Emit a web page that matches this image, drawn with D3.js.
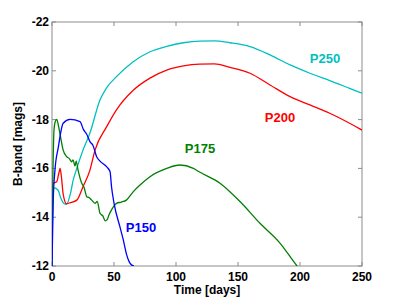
<!DOCTYPE html>
<html><head><meta charset="utf-8">
<script src="https://cdn.jsdelivr.net/npm/d3@7"></script>
<style>body{margin:0;background:#fff}svg{display:block}text{font-family:"Liberation Sans",Arial,Helvetica,sans-serif;font-weight:bold}</style>
</head><body>
<script>
const xTicks = [0, 50, 100, 150, 200, 250];
const yTicks = [-22, -20, -18, -16, -14, -12];

const p250Days = [0, 0.5, 1, 2, 3.2, 5, 7, 9, 10.5, 12, 15, 17, 20, 25, 30.6, 38.7, 44, 52, 65.5, 79, 92.5, 106, 119, 131, 143.5, 159.7, 175.8, 192, 208, 224, 240, 250];
const p250Mags = [-12, -14.7, -15.1, -15.2, -15.18, -15.1, -14.8, -14.6, -14.54, -14.55, -15.0, -15.5, -16.0, -16.75, -17.45, -18.8, -19.3, -19.76, -20.37, -20.78, -21.0, -21.15, -21.22, -21.23, -21.15, -20.99, -20.65, -20.24, -19.9, -19.6, -19.28, -19.08];

const p200Days = [0, 1, 3.8, 5.5, 6.5, 7.5, 9, 11.8, 15, 20, 25, 30.6, 34.7, 44, 52, 65.5, 79, 92.5, 106, 119, 131, 143.5, 159.7, 175.8, 192, 208, 224, 240, 250];
const p200Mags = [-15.0, -15.39, -15.45, -15.8, -16.0, -15.7, -14.95, -14.55, -14.6, -14.7, -15.25, -15.93, -16.75, -17.7, -18.4, -19.2, -19.7, -20.03, -20.2, -20.27, -20.28, -20.14, -19.9, -19.42, -18.94, -18.6, -18.26, -17.85, -17.57];

const p175Days = [0, 0.5, 1, 1.6, 2.5, 3.8, 5, 6.5, 9, 11.8, 14, 15.9, 17, 18.5, 19.5, 21, 24, 26, 28, 30, 32, 34.7, 36.5, 38.7, 41, 43, 44.5, 46, 48, 52, 56, 60, 65.6, 71, 79, 92.5, 103, 114, 119, 135.5, 151.6, 167.7, 184, 197, 200];
const p175Mags = [-12, -15.0, -16.5, -17.57, -17.9, -18.01, -17.8, -17.4, -16.75, -16.48, -16.4, -16.27, -16.35, -16.1, -16.3, -15.93, -15.39, -15.2, -14.84, -14.8, -14.7, -14.57, -14.65, -14.16, -14.05, -13.85, -13.9, -14.1, -14.3, -14.57, -14.62, -14.7, -15.05, -15.32, -15.66, -16.0, -16.14, -16.0, -15.85, -15.39, -14.64, -13.75, -12.93, -12.04, -11.85];

const p150Days = [0, 1, 2.4, 5, 9, 14.5, 22.6, 25.3, 28, 30.6, 33, 36, 38.7, 44, 46.8, 48, 50, 54.8, 57.5, 60, 62, 64, 66];
const p150Mags = [-12, -14.7, -15.93, -16.84, -17.85, -18.01, -17.92, -17.6, -17.4, -17.1, -16.95, -16.48, -16.3, -16.07, -15.87, -15.25, -14.58, -13.6, -13.07, -12.5, -12.2, -12.05, -12.0];

const series = [
  {name: "P250", days: p250Days, mags: p250Mags, color: "#00bfbf", lx: 325, ly: 58},
  {name: "P200", days: p200Days, mags: p200Mags, color: "#ff0000", lx: 280, ly: 117},
  {name: "P175", days: p175Days, mags: p175Mags, color: "#008000", lx: 200, ly: 148},
  {name: "P150", days: p150Days, mags: p150Mags, color: "#0000ff", lx: 141, ly: 227}
];

const W = 399, H = 299;
const m = {left: 52, right: 37, top: 22, bottom: 33};
const svg = d3.select("body").append("svg").attr("width", W).attr("height", H);
const x = d3.scaleLinear().domain([0, 250]).range([m.left, W - m.right]);
const y = d3.scaleLinear().domain([-22, -12]).range([m.top, H - m.bottom]);

svg.append("clipPath").attr("id", "clip").append("rect")
  .attr("x", x(0)).attr("y", y(-22)).attr("width", x(250) - x(0)).attr("height", y(-12) - y(-22));

const axisColor = "#8c8c8c";
svg.append("rect").attr("x", x(0)).attr("y", y(-22)).attr("width", x(250) - x(0)).attr("height", y(-12) - y(-22))
  .attr("fill", "none").attr("stroke", axisColor).attr("stroke-width", 1);

const tl = 4;
xTicks.forEach(t => {
  svg.append("line").attr("x1", x(t)).attr("x2", x(t)).attr("y1", y(-12)).attr("y2", y(-12) - tl).attr("stroke", axisColor);
  svg.append("line").attr("x1", x(t)).attr("x2", x(t)).attr("y1", y(-22)).attr("y2", y(-22) + tl).attr("stroke", axisColor);
  svg.append("text").attr("x", x(t)).attr("y", y(-12) + 15).attr("text-anchor", "middle").attr("font-size", 12).attr("fill", "#000").text(t);
});
yTicks.forEach(t => {
  svg.append("line").attr("x1", x(0)).attr("x2", x(0) + tl).attr("y1", y(t)).attr("y2", y(t)).attr("stroke", axisColor);
  svg.append("line").attr("x1", x(250)).attr("x2", x(250) - tl).attr("y1", y(t)).attr("y2", y(t)).attr("stroke", axisColor);
  svg.append("text").attr("x", x(0) - 3).attr("y", y(t) + 4).attr("text-anchor", "end").attr("font-size", 12).attr("fill", "#000").text(t);
});

svg.append("text").attr("x", (x(0) + x(250)) / 2).attr("y", 294).attr("text-anchor", "middle").attr("font-size", 12).attr("fill", "#000").text("Time [days]");
svg.append("text").attr("transform", `translate(22,${(y(-22) + y(-12)) / 2}) rotate(-90)`).attr("text-anchor", "middle").attr("font-size", 12).attr("fill", "#000").text("B-band [mags]");

const line = d3.line().curve(d3.curveMonotoneX).x(d => x(d[0])).y(d => y(d[1]));
const g = svg.append("g").attr("clip-path", "url(#clip)");
series.forEach(s => {
  const pts = s.days.map((d, i) => [d, s.mags[i]]);
  g.append("path").attr("d", line(pts)).attr("fill", "none").attr("stroke", s.color).attr("stroke-width", 1.3);
});
series.forEach(s => {
  svg.append("text").attr("x", s.lx).attr("y", s.ly + 5).attr("text-anchor", "middle").attr("font-size", 13).attr("fill", s.color).text(s.name);
});
</script>
</body></html>
